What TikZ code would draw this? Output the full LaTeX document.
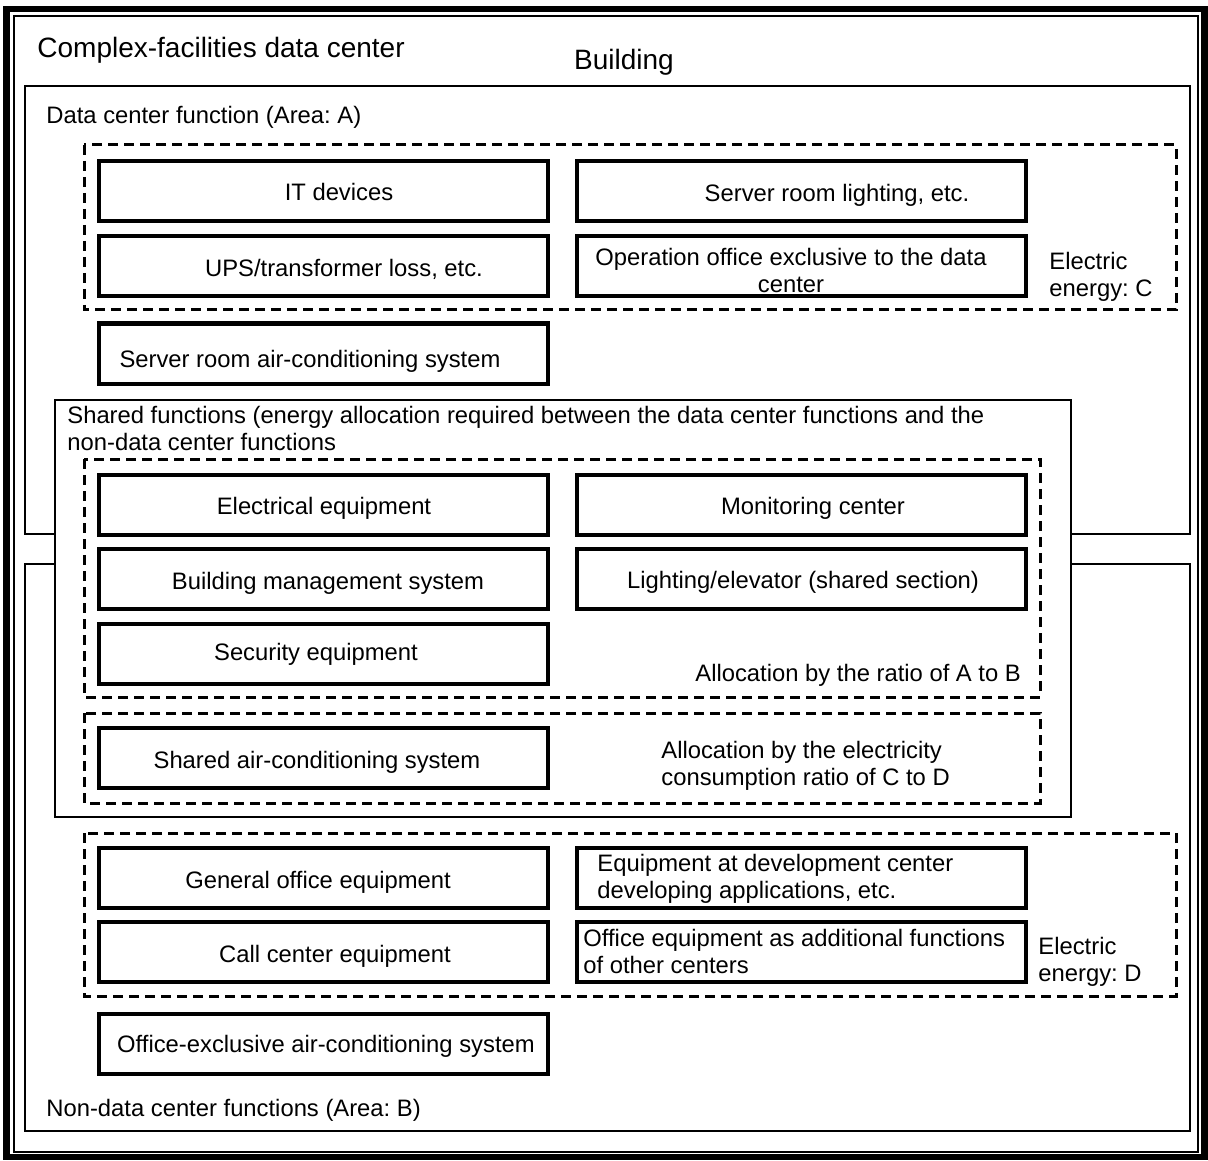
\documentclass[tikz,border=0pt]{standalone}
\usepackage{fontspec}
\setmainfont{Liberation Sans}
\frenchspacing
\begin{document}
\begin{tikzpicture}[x=0.5pt,y=-0.5pt,
  frameouter/.style={line width=3.2pt},
  frameinner/.style={line width=1pt},
  area/.style={draw, line width=0.9pt},
  sharedarea/.style={draw, fill=white, line width=0.9pt},
  group/.style={draw, line width=1.5pt, dash pattern=on 5pt off 3pt},
  box/.style={draw, line width=2pt, minimum width=224.5pt, minimum height=30pt, inner sep=0pt},
  lbl/.style={font=\fontsize{11.9}{13.3}\selectfont, inner sep=0pt},
  bigtitle/.style={font=\fontsize{14}{16}\selectfont, inner sep=0pt},
]
\useasboundingbox (0,0) rectangle (1208,1160);

% double outer frame
\draw[frameouter] (6.5,9) rectangle (1204.5,1157);
\draw[frameinner] (13.5,16.5) rectangle (1198,1152);

% areas of the building
\draw[area] (25,86) rectangle (1190,534);
\draw[area] (25,564) rectangle (1190,1131);
\draw[group] (84,145) rectangle (1176,310);
\draw[group] (84,833) rectangle (1176,996);

% shared functions lie over both areas
\draw[sharedarea] (55,400) rectangle (1071,817);
\draw[group] (84,459) rectangle (1040,697);
\draw[group] (84,713) rectangle (1040,803);

% titles
\node[bigtitle, anchor=base west] (dctitle) at (37,58) {Complex-facilities data center};
\node[bigtitle, anchor=base] (bldtitle) at (624,70) {Building};
\node[lbl, anchor=base west] (areaA) at (46,124) {Data center function (Area: A)};
\node[lbl, anchor=base west] (areaB) at (46,1116) {Non-data center functions (Area: B)};
\node[lbl, anchor=north west, align=left] (sharedtitle) at (67,406)
  {Shared functions (energy allocation required between the data center functions and the\\non-data center functions};

% data center function boxes
\node[box] (itdev) at (323.5,191.5) {};
\node[box] (srvlight) at (801.5,191.5) {};
\node[box] (ups) at (323.5,266.5) {};
\node[box] (opoffice) at (801.5,266.5) {};
\node[box] (srvac) at (323.5,353.5) {};

\node[lbl, anchor=base] (itdevt) at (339,201) {IT devices};
\node[lbl, anchor=base] (srvlightt) at (837,202) {Server room lighting, etc.};
\node[lbl, anchor=base] (upst) at (344,277) {UPS/transformer loss, etc.};
\node[lbl, anchor=north, align=center] (opofficet) at (791,248)
  {Operation office exclusive to the data\\center};
\node[lbl, anchor=north west, align=left] (energyC) at (1049,252) {Electric\\energy: C};
\node[lbl, anchor=base] (srvact) at (310,367) {Server room air-conditioning system};

% shared function boxes
\node[box] (elec) at (323.5,504.5) {};
\node[box] (monitor) at (801.5,504.5) {};
\node[box] (bms) at (323.5,578.5) {};
\node[box] (lightelev) at (801.5,578.5) {};
\node[box] (security) at (323.5,653.5) {};
\node[box] (sharedac) at (323.5,758) {};

\node[lbl, anchor=base] (elect) at (324,514) {Electrical equipment};
\node[lbl, anchor=base] (monitort) at (813,514) {Monitoring center};
\node[lbl, anchor=base] (bmst) at (328,589) {Building management system};
\node[lbl, anchor=base] (lightelevt) at (803,588) {Lighting/elevator (shared section)};
\node[lbl, anchor=base] (securityt) at (316,660) {Security equipment};
\node[lbl, anchor=base west] (allocAB) at (695,681) {Allocation by the ratio of A to B};
\node[lbl, anchor=base] (sharedact) at (317,768) {Shared air-conditioning system};
\node[lbl, anchor=north west, align=left] (allocCD) at (661,741)
  {Allocation by the electricity\\consumption ratio of C to D};

% non-data center function boxes
\node[box] (genoffice) at (323.5,878) {};
\node[box] (devcenter) at (801.5,878) {};
\node[box] (callcenter) at (323.5,952) {};
\node[box] (officeadd) at (801.5,952) {};
\node[box] (officeac) at (323.5,1043.5) {};

\node[lbl, anchor=base] (genofficet) at (318,888) {General office equipment};
\node[lbl, anchor=north west, align=left] (devcentert) at (597,854)
  {Equipment at development center\\developing applications, etc.};
\node[lbl, anchor=base] (callcentert) at (335,962) {Call center equipment};
\node[lbl, anchor=north west, align=left] (officeaddt) at (583,929)
  {Office equipment as additional functions\\of other centers};
\node[lbl, anchor=north west, align=left] (energyD) at (1038,937) {Electric\\energy: D};
\node[lbl, anchor=base] (officeact) at (326,1052) {Office-exclusive air-conditioning system};
\end{tikzpicture}
\end{document}
